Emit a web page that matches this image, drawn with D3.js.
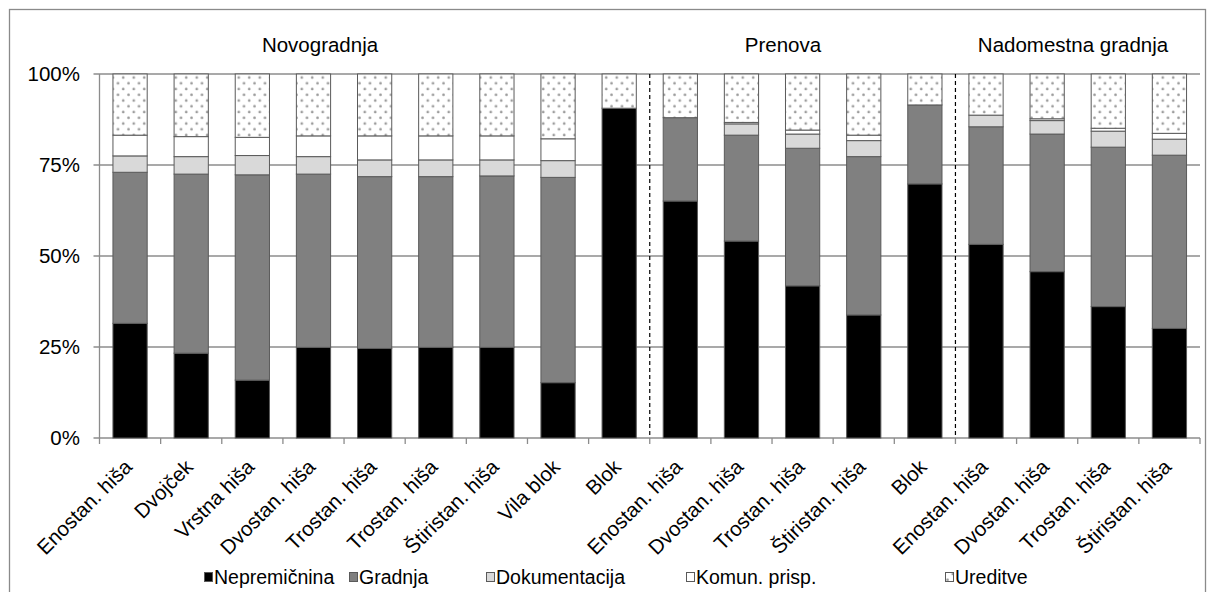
<!DOCTYPE html>
<html><head><meta charset="utf-8">
<script src="https://cdn.jsdelivr.net/npm/d3@7"></script>
<style>
html,body{margin:0;padding:0;background:#fff;}
svg{display:block;font-family:"Liberation Sans",Arial,sans-serif;}
</style></head>
<body>
<svg id="chart" width="1208" height="592"></svg>
<script>
const categories = ["Enostan. hiša","Dvojček","Vrstna hiša","Dvostan. hiša","Trostan. hiša","Trostan. hiša","Štiristan. hiša","Vila blok","Blok",
  "Enostan. hiša","Dvostan. hiša","Trostan. hiša","Štiristan. hiša","Blok",
  "Enostan. hiša","Dvostan. hiša","Trostan. hiša","Štiristan. hiša"];
const groups = ["Novogradnja","Prenova","Nadomestna gradnja"];
const groupStart = [0, 9, 14];
const seriesNames = ["Nepremičnina","Gradnja","Dokumentacija","Komun. prisp.","Ureditve"];
const nepremicnina = [31.5,23.3,15.9,24.9,24.6,24.9,24.9,15.2,90.6, 65.1,54.1,41.8,33.8,69.8, 53.2,45.7,36.1,30.1];
const gradnja      = [41.5,49.2,56.4,47.6,47.2,46.9,47.1,56.4,0,    22.9,29.1,37.8,43.5,21.7, 32.3,37.8,43.8,47.6];
const dokumentacija= [4.5,4.8,5.3,4.8,4.6,4.6,4.4,4.6,0,           0,3.1,3.9,4.4,0,            3.2,3.7,4.4,4.4];
const komunPrisp   = [5.7,5.5,5.0,5.7,6.6,6.6,6.6,6.0,0,           0,0.4,1.1,1.5,0,            0,0.5,0.8,1.6];
const ureditve     = [16.8,17.2,17.4,17.0,17.0,17.0,17.0,17.8,9.4, 12.0,13.3,15.4,16.8,8.5,   11.3,12.3,14.9,16.3];
const yTicks = [0,25,50,75,100];

const seriesData = [nepremicnina,gradnja,dokumentacija,komunPrisp,ureditve];
const fills = ["#000000","#808080","#d9d9d9","#ffffff","url(#dots)"];

const svg = d3.select("#chart");
const defs = svg.append("defs");
const pat = defs.append("pattern").attr("id","dots").attr("patternUnits","userSpaceOnUse")
  .attr("width",10.5).attr("height",11.5);
pat.append("rect").attr("width",10.5).attr("height",11.5).attr("fill","#fff");
pat.append("circle").attr("cx",2.5).attr("cy",2.8).attr("r",1.35).attr("fill","#9c9c9c");
pat.append("circle").attr("cx",7.75).attr("cy",8.55).attr("r",1.35).attr("fill","#9c9c9c");

// frame
svg.append("rect").attr("x",9.5).attr("y",9.5).attr("width",1196).attr("height",590)
  .attr("fill","none").attr("stroke","#8a8a8a").attr("stroke-width",1.3);

const pLeft = 99.5, pRight = 1200, pTop = 74, pBottom = 438;
const idx = categories.map((d,i)=>i);
const x = d3.scaleBand().domain(idx).range([pLeft,pRight]).paddingInner(0.44).paddingOuter(0.22);
const y = d3.scaleLinear().domain([0,100]).range([pBottom,pTop]);
const step = x.step();
const bx = i => pLeft + i*step;

// gridlines
svg.append("g").selectAll("line").data(yTicks).join("line")
  .attr("x1",pLeft-6).attr("x2",pRight).attr("y1",d=>y(d)).attr("y2",d=>y(d))
  .attr("stroke","#8c8c8c").attr("stroke-width",1.3);
// y axis line
svg.append("line").attr("x1",pLeft).attr("x2",pLeft).attr("y1",pTop).attr("y2",pBottom)
  .attr("stroke","#8c8c8c").attr("stroke-width",1.3);
// y labels
svg.append("g").selectAll("text").data(yTicks).join("text")
  .attr("x",80).attr("y",d=>y(d)).attr("dy","0.35em").attr("text-anchor","end")
  .attr("font-size",20.5).attr("fill","#000").text(d=>d+"%");

// x ticks
svg.append("g").selectAll("line").data(d3.range(categories.length+1)).join("line")
  .attr("x1",d=>bx(d)).attr("x2",d=>bx(d)).attr("y1",pBottom).attr("y2",pBottom+6)
  .attr("stroke","#8c8c8c").attr("stroke-width",1.3);

// stacked bars
const stackRows = idx.map(i => { const o = {i}; seriesNames.forEach((s,k)=>o[s]=seriesData[k][i]); return o; });
const stacked = d3.stack().keys(seriesNames)(stackRows);
stacked.forEach((layer,k) => {
  svg.append("g").selectAll("rect").data(layer.filter(d=>d[1]-d[0]>0)).join("rect")
    .attr("x",d=>x(d.data.i)).attr("width",x.bandwidth())
    .attr("y",d=>y(d[1])).attr("height",d=>y(d[0])-y(d[1]))
    .attr("fill",fills[k]).attr("stroke","#5a5a5a").attr("stroke-width",1);
});

// dashed separators
svg.append("g").selectAll("line").data(groupStart.slice(1)).join("line")
  .attr("x1",d=>bx(d)).attr("x2",d=>bx(d)).attr("y1",pTop).attr("y2",pBottom)
  .attr("stroke","#000").attr("stroke-width",1.2).attr("stroke-dasharray","4,3");

// group titles
const titleX = [320, 783, 1073];
svg.append("g").selectAll("text").data(groups).join("text")
  .attr("x",(d,i)=> titleX[i])
  .attr("y",52).attr("text-anchor","middle").attr("font-size",20.5).attr("fill","#000").text(d=>d);

// x labels
svg.append("g").selectAll("text").data(categories).join("text")
  .attr("transform",(d,i)=>`translate(${x(i)+x.bandwidth()/2-7},${pBottom+20}) rotate(-45)`)
  .attr("text-anchor","end").attr("dy","0.7em").attr("font-size",20.5).attr("fill","#000").text(d=>d);

// legend
const legendX = [204,349,486,686,945];
const lg = svg.append("g").selectAll("g").data(seriesNames).join("g")
  .attr("transform",(d,i)=>`translate(${legendX[i]},577)`);
lg.append("rect").attr("x",0.5).attr("y",-4.5).attr("width",8).attr("height",9)
  .attr("fill",(d,i)=>fills[i]).attr("stroke","#5a5a5a").attr("stroke-width",1);
lg.append("text").attr("x",10).attr("y",0).attr("dy","0.35em").attr("font-size",19.5).attr("fill","#000").text(d=>d);
</script>
</body></html>
